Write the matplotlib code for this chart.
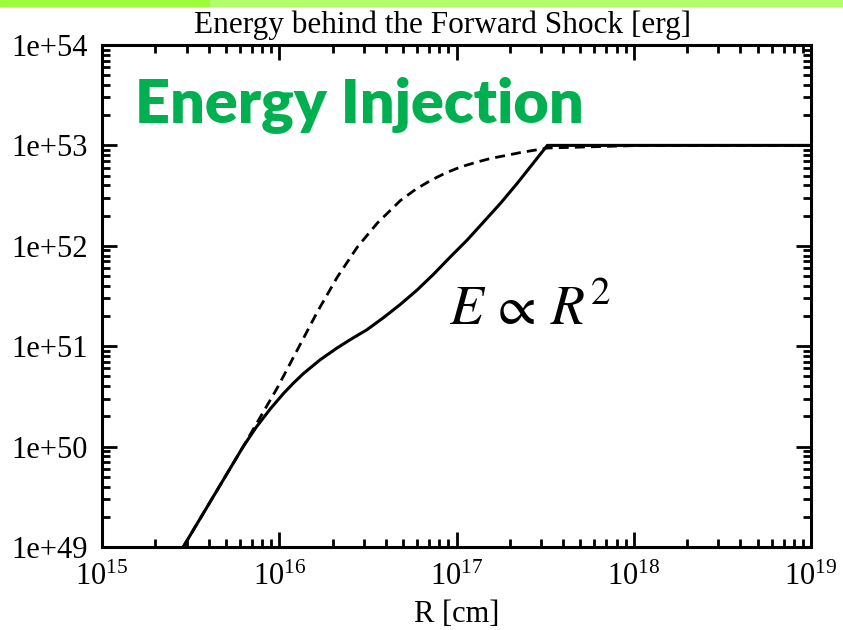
import matplotlib
matplotlib.use("Agg")
import matplotlib.pyplot as plt
from matplotlib.patches import Rectangle
from matplotlib.ticker import LogLocator, FixedLocator, NullFormatter

# Radius [cm] and energy [erg] along the solid (energy injection) curve
r_injection = [2.871e15, 6.260e15, 7.415e15, 8.896e15, 1.0576e16, 1.2045e16,
               1.3720e16, 1.7047e16, 2.1184e16, 2.5183e16, 3.1297e16, 3.8842e16,
               4.826e16, 5.998e16, 7.444e16, 9.249e16, 1.1496e17, 1.4262e17,
               1.7726e17, 2.2025e17, 3.2538e17, 1e19]
e_injection = [1e49, 1e50, 1.560e50, 2.371e50, 3.388e50, 4.305e50,
               5.358e50, 7.345e50, 9.594e50, 1.164e51, 1.462e51, 1.932e51,
               2.612e51, 3.631e51, 5.236e51, 7.780e51, 1.143e52, 1.738e52,
               2.655e52, 4.198e52, 1e53, 1e53]

# Radius [cm] and energy [erg] along the dashed (instant) curve
r_instant = [2.871e15, 6.260e15, 9.743e15, 1.2637e16, 1.6394e16, 2.1267e16,
             2.7589e16, 3.5790e16, 4.826e16, 5.867e16, 7.130e16, 8.668e16,
             1.0534e17, 1.2803e17, 1.5563e17, 1.8915e17, 2.2993e17, 2.7945e17,
             3.2665e17, 1e18, 1e19]
e_instant = [1e49, 1e50, 3.837e50, 9.162e50, 2.193e51, 4.887e51,
             9.727e51, 1.687e52, 2.825e52, 3.639e52, 4.467e52, 5.309e52,
             6.095e52, 6.761e52, 7.413e52, 7.925e52, 8.492e52, 8.995e52,
             9.419e52, 9.95e52, 1e53]

x_ticks = [1e15, 1e16, 1e17, 1e18, 1e19]
x_ticklabels = ["$10^{15}$", "$10^{16}$", "$10^{17}$", "$10^{18}$", "$10^{19}$"]
y_ticks = [1e49, 1e50, 1e51, 1e52, 1e53, 1e54]
y_ticklabels = ["1e+49", "1e+50", "1e+51", "1e+52", "1e+53", "1e+54"]

plt.rcParams["font.family"] = ["Liberation Serif", "DejaVu Serif"]
plt.rcParams["mathtext.fontset"] = "custom"
plt.rcParams["mathtext.rm"] = "Liberation Serif"
plt.rcParams["mathtext.it"] = "Liberation Serif:italic"

fig = plt.figure(figsize=(8.43, 6.30), dpi=100)
ax = fig.add_axes([102 / 843, 1 - 547 / 630, 709 / 843, 502 / 630])

# top banner stripe
fig.patches.append(Rectangle((0, 1 - 6 / 630), 210 / 843, 6 / 630,
                             transform=fig.transFigure, color="#9cfc3c", zorder=0))
fig.patches.append(Rectangle((210 / 843, 1 - 6 / 630), 1 - 210 / 843, 6 / 630,
                             transform=fig.transFigure, color="#b2fd6a", zorder=0))

ax.plot(r_instant, e_instant, color="black", lw=2.0, ls=(0, (3.6, 2.2)))
ax.plot(r_injection, e_injection, color="black", lw=2.2)

ax.set_xscale("log")
ax.set_yscale("log")
ax.set_xlim(1e15, 1e19)
ax.set_ylim(1e49, 1e54)

ax.xaxis.set_major_locator(FixedLocator(x_ticks))
ax.set_xticklabels(x_ticklabels)
ax.yaxis.set_major_locator(FixedLocator(y_ticks))
ax.set_yticklabels(y_ticklabels)
ax.xaxis.set_minor_locator(LogLocator(base=10, subs=range(2, 10), numticks=50))
ax.yaxis.set_minor_locator(LogLocator(base=10, subs=range(2, 10), numticks=50))
ax.xaxis.set_minor_formatter(NullFormatter())
ax.yaxis.set_minor_formatter(NullFormatter())

ax.tick_params(which="both", direction="in", top=True, right=True, width=2.0,
               labelsize=22, colors="black")
ax.tick_params(which="major", length=11)
ax.tick_params(which="minor", length=6)
ax.tick_params(axis="y", which="major", pad=10)
ax.tick_params(axis="x", which="major", pad=11.5)
for s in ax.spines.values():
    s.set_linewidth(2.2)

fig.text(443 / 843, 1 - 33 / 630, "Energy behind the Forward Shock [erg]",
         fontsize=22.5, ha="center", va="baseline")
ax.set_xlabel("R [cm]", fontsize=22, labelpad=5.5)

ax.text(0.047, 0.8466, "Energy Injection", transform=ax.transAxes,
        fontsize=44, color="#00b050", fontweight="heavy",
        family=["Lato", "DejaVu Sans"], ha="left", va="baseline")
ax.text(0.49, 0.443, r"$E\,\propto\,R^2$", transform=ax.transAxes,
        fontsize=40, math_fontfamily="stix", ha="left", va="baseline")

fig.savefig("out.png", dpi=100)
